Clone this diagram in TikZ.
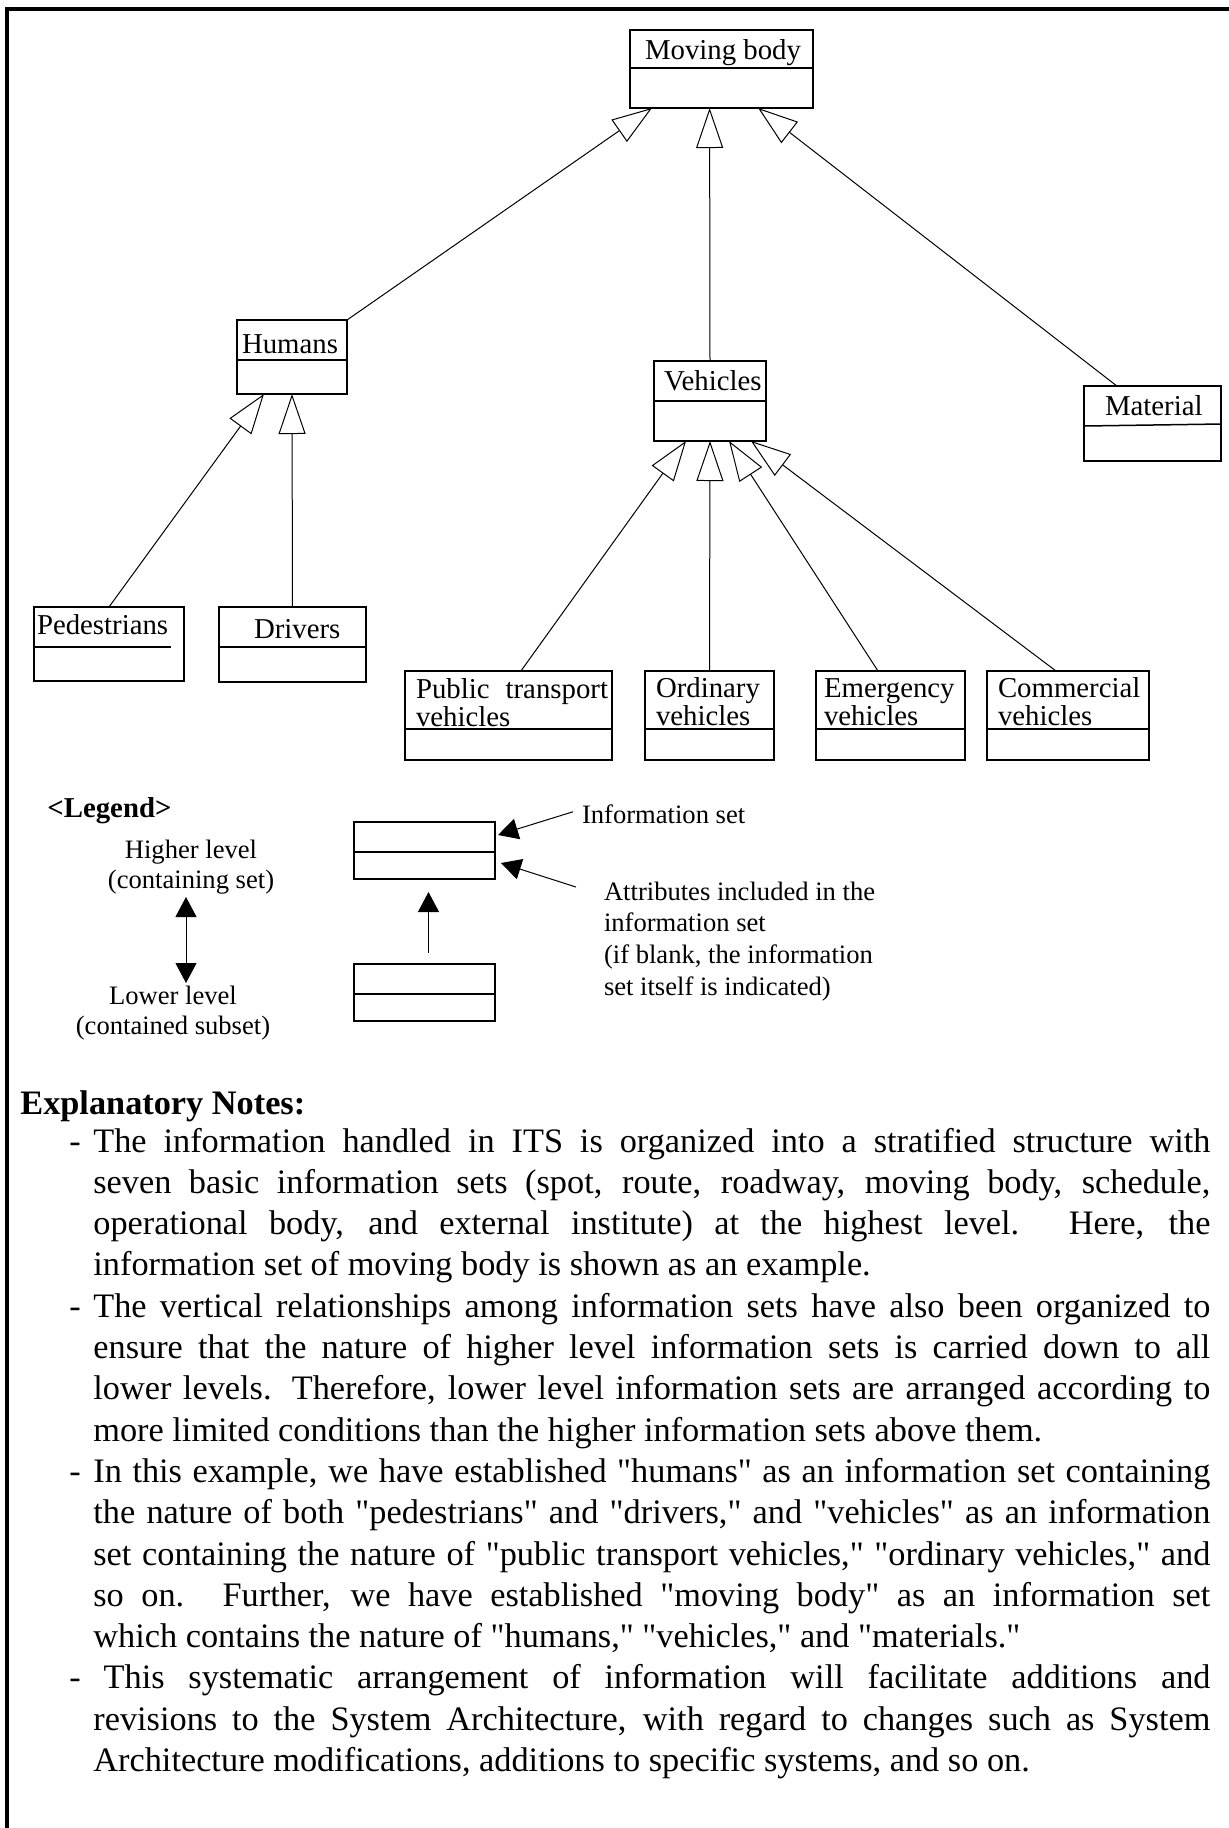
\documentclass[tikz,border=0pt]{standalone}
\usepackage{fontspec}
\setmainfont{Liberation Serif}[Ligatures=TeXOff]
\usetikzlibrary{arrows.meta,calc}

\tikzset{
  clsbox/.style={draw, line width=0.75pt, inner sep=0pt, outer sep=0pt},
  clsline/.style={line width=0.75pt},
  lbl/.style={inner sep=0pt, outer sep=0pt, anchor=base west,
    font=\fontsize{14.4pt}{14pt}\selectfont},
  legtxt/.style={inner sep=0pt, outer sep=0pt,
    font=\fontsize{13.3pt}{15pt}\selectfont},
  gen/.style={line width=0.5pt, -{Triangle[open, length=20pt, width=13.5pt]}},
  legarr/.style={line width=0.5pt, -{Triangle[length=10pt, width=10.5pt]}},
  legboth/.style={line width=0.5pt, {Triangle[length=10pt, width=10.5pt]}-{Triangle[length=10pt, width=10.5pt]}},
  bullet/.style={},
}
\newcommand{\notebullet}{\hangindent=12pt\hangafter=1\makebox[12pt][l]{-}}

\begin{document}
\begin{tikzpicture}[x=0.5pt, y=-0.5pt]
\useasboundingbox (0,0) rectangle (1229,1828);
\fill[white] (0,0) rectangle (1229,1828);

% outer frame (top and left edges)
\draw[line width=2.2pt] (7,1840) -- (7,9) -- (1240,9);

% ---------- information sets ----------
\node[clsbox, minimum width=91.5pt, minimum height=39pt]   (mb)  at (721.5,69) {};
\node[clsbox, minimum width=55pt,   minimum height=37pt]   (hum) at (292,357) {};
\node[clsbox, minimum width=56pt,   minimum height=40pt]   (veh) at (710,401) {};
\node[clsbox, minimum width=68.5pt, minimum height=37.5pt] (mat) at (1152.5,423.5) {};
\node[clsbox, minimum width=75pt,   minimum height=37pt]   (ped) at (109,644) {};
\node[clsbox, minimum width=73.5pt, minimum height=37.5pt] (drv) at (292.5,644.5) {};
\node[clsbox, minimum width=103.5pt, minimum height=44.5pt] (pt) at (508.5,715.5) {};
\node[clsbox, minimum width=64.5pt, minimum height=44.5pt] (ord) at (709.5,715.5) {};
\node[clsbox, minimum width=74.5pt, minimum height=44.5pt] (emg) at (890.5,715.5) {};
\node[clsbox, minimum width=81pt,   minimum height=44.5pt] (com) at (1068,715.5) {};

% compartment dividers
\draw[clsline] (mb.west |- 0,68)   -- (mb.east |- 0,68);
\draw[clsline] (hum.west |- 0,360) -- (hum.east |- 0,360);
\draw[clsline] (veh.west |- 0,401) -- (veh.east |- 0,401);
\draw[clsline] (mat.west |- 0,426) -- (mat.east |- 0,424);
\draw[clsline] (ped.west |- 0,647) -- (171,647);
\draw[clsline] (drv.west |- 0,647) -- (drv.east |- 0,647);
\foreach \b in {pt,ord,emg,com}
  \draw[clsline] (\b.west |- 0,729) -- (\b.east |- 0,729);

% names
\node[lbl] (mbt)  at (645,59)  {Moving body};
\node[lbl] (humt) at (242,353) {Humans};
\node[lbl] (veht) at (664,390) {Vehicles};
\node[lbl] (matt) at (1105,415) {Material};
\node[lbl] (pedt) at (37,634)  {Pedestrians};
\node[lbl] (drvt) at (254,638) {Drivers};
\node[lbl] (ptt)  at (416,698) {\begin{tabular}[t]{@{}l@{}}\hbox to 96pt{Public\hfill transport}\\vehicles\end{tabular}};
\node[lbl] (ordt) at (656,697) {\begin{tabular}[t]{@{}l@{}}Ordinary\\vehicles\end{tabular}};
\node[lbl] (emgt) at (824,697) {\begin{tabular}[t]{@{}l@{}}Emergency\\vehicles\end{tabular}};
\node[lbl] (comt) at (998,697) {\begin{tabular}[t]{@{}l@{}}Commercial\\vehicles\end{tabular}};

% generalisation links (child -> parent)
\draw[gen] (hum.north east) -- ($(mb.south west)!0.12!(mb.south east)$);
\draw[gen] (veh.north) -- ($(mb.south west)!0.435!(mb.south east)$);
\draw[gen] ($(mat.north west)!0.24!(mat.north east)$) -- ($(mb.south west)!0.70!(mb.south east)$);
\draw[gen] (ped.north) -- ($(hum.south west)!0.245!(hum.south east)$);
\draw[gen] (drv.north) -- (hum.south);
\draw[gen] ($(pt.north west)!0.56!(pt.north east)$) -- ($(veh.south west)!0.286!(veh.south east)$);
\draw[gen] (ord.north) -- (veh.south);
\draw[gen] ($(emg.north west)!0.416!(emg.north east)$) -- ($(veh.south west)!0.67!(veh.south east)$);
\draw[gen] ($(com.north west)!0.426!(com.north east)$) -- ($(veh.south west)!0.866!(veh.south east)$);

% ---------- legend ----------
\node[inner sep=0pt, anchor=base west, font=\bfseries\fontsize{14.4pt}{15pt}\selectfont] (leg) at (47,817) {<Legend>};
\node[legtxt, anchor=base] (hi) at (191,858) {\begin{tabular}[t]{@{}c@{}}Higher level\\(containing set)\end{tabular}};
\node[legtxt, anchor=base] (lo) at (173,1004) {\begin{tabular}[t]{@{}c@{}}Lower level\\(contained subset)\end{tabular}};
\draw[legboth] ([xshift=-2.5pt]hi.south) -- ([xshift=-2.5pt]hi.south |- lo.north);

\node[clsbox, minimum width=70.5pt, minimum height=28.5pt] (lga) at (424.5,850.5) {};
\node[clsbox, minimum width=70.5pt, minimum height=28.5pt] (lgb) at (424.5,992.5) {};
\draw[clsline] (lga.west |- 0,852) -- (lga.east |- 0,852);
\draw[clsline] (lgb.west |- 0,994) -- (lgb.east |- 0,994);
\draw[legarr] ([xshift=2pt,yshift=5.5pt]lgb.north) -- ([xshift=2pt,yshift=-6.5pt]lga.south);

\node[legtxt, anchor=base west] (info) at (582,823) {Information set};
\draw[legarr] ([xshift=-4.5pt,yshift=1pt]info.west) -- ([xshift=1.5pt,yshift=7.75pt]lga.east);

\node[legtxt, anchor=base west, font=\fontsize{13.3pt}{15.85pt}\selectfont] (attr) at (604,900)
  {\begin{tabular}[t]{@{}l@{}}Attributes included in the\\information set\\(if blank, the information\\set itself is indicated)\end{tabular}};
\draw[legarr] ([xshift=-14pt,yshift=-4.6pt]attr.north west) -- ([xshift=3pt,yshift=-6.25pt]lga.east);

% ---------- explanatory notes ----------
\node[inner sep=0pt, anchor=base west, font=\bfseries\fontsize{17.15pt}{20pt}\selectfont] (hdr) at (20,1114) {Explanatory Notes:};

\node[inner sep=0pt, anchor=base west] (notes) at (69,1152) {\parbox[t]{570.5pt}{%
\fontsize{17.15pt}{20.65pt}\selectfont
\setlength{\parindent}{0pt}\setlength{\parskip}{0pt}%
\emergencystretch=2em \hbadness=10000
\notebullet The information handled in ITS is organized into a stratified structure with\linebreak
seven basic information sets (spot, route, roadway, moving body, schedule,\linebreak
operational body, and external institute) at the highest level. Here, the\linebreak
information set of moving body is shown as an example.\par
\notebullet The vertical relationships among information sets have also been organized to\linebreak
ensure that the nature of higher level information sets is carried down to all\linebreak
lower levels. Therefore, lower level information sets are arranged according to\linebreak
more limited conditions than the higher information sets above them.\par
\notebullet In this example, we have established "humans" as an information set containing\linebreak
the nature of both "pedestrians" and "drivers," and "vehicles" as an information\linebreak
set containing the nature of "public transport vehicles," "ordinary vehicles," and\linebreak
so on. Further, we have established "moving body" as an information set\linebreak
which contains the nature of "humans," "vehicles," and "materials."\par
\notebullet\hspace{0.3em}This systematic arrangement of information will facilitate additions and\linebreak
revisions to the System Architecture, with regard to changes such as System\linebreak
Architecture modifications, additions to specific systems, and so on.\par}};
\end{tikzpicture}
\end{document}
